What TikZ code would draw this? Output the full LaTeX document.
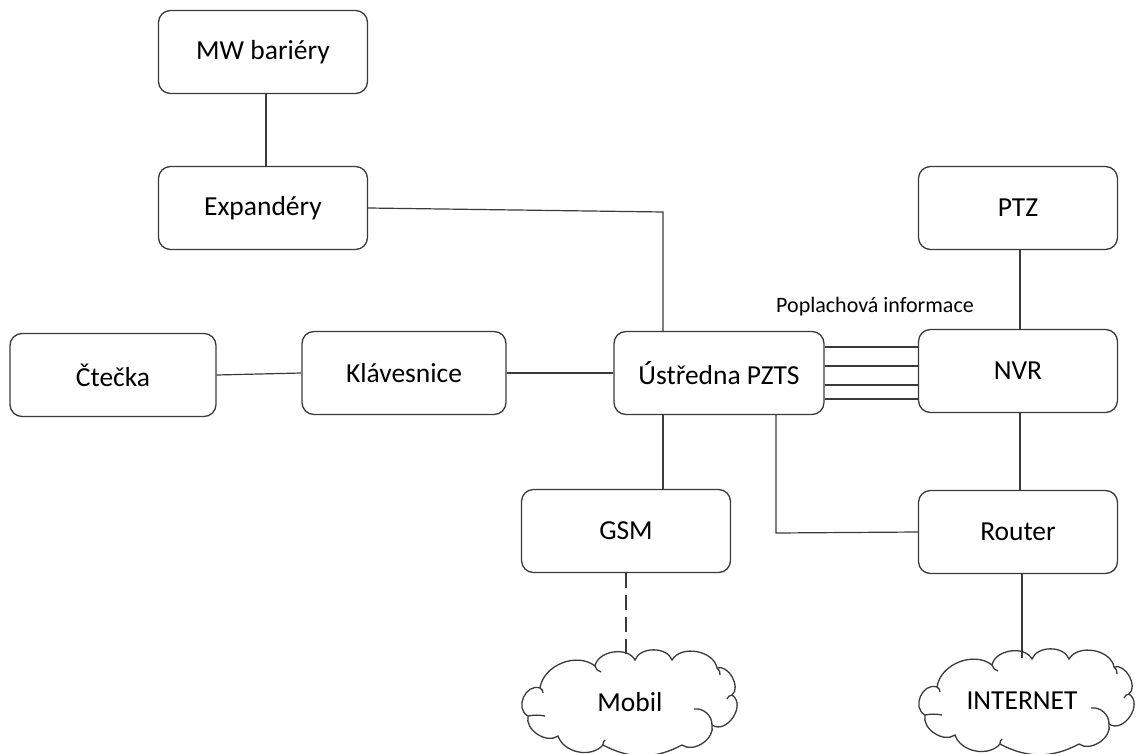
\documentclass[tikz,border=0pt]{standalone}
\usepackage{fontspec}
\setmainfont{Carlito}
\definecolor{edge}{HTML}{3A3A3A}
\begin{document}
\begin{tikzpicture}[x=1pt,y=-1pt,
  box/.style={draw=edge,line width=1.3pt,rounded corners=12pt,minimum width=#1,minimum height=83pt,inner sep=0pt,font=\fontsize{27.5}{32}\selectfont},
  box/.default=205pt,
  cloudtext/.style={inner sep=0pt,font=\fontsize{27.5}{32}\selectfont},
  conn/.style={draw=edge,line width=1.2pt},
  lbl/.style={font=\fontsize{22}{26}\selectfont,inner sep=0pt},
  cloudpic/.pic={
    \draw[edge,line width=1.3pt,fill=white]
      (-36,-36) to[bend left=70] (4,-42) to[bend left=70] (41,-42)
      to[bend left=70] (86,-34) to[bend left=80] (101,-7)
      to[bend left=90,looseness=1.25] (81,23) to[bend left=70] (51,43)
      to[bend left=28] (-28,43) to[bend left=60] (-73,34)
      to[bend left=70] (-103,14) to[bend left=85,looseness=1.3] (-91,-14)
      to[bend left=60] (-36,-36) -- cycle;
    \draw[edge,line width=1.3pt]
      (-36,-36) to[bend right=30] (-30,-30)
      (86,-34) to[bend left=30] (89,-27)
      (101,-7) to[bend right=30] (96,-3)
      (63,7) to[bend left=50] (81,23)
      (-103,14) to[bend left=10] (-86,14)
      (-91,-14) to[bend left=30] (-88,-9)
      (-28,43) to[bend left=30] (-26,38);
  }]
\useasboundingbox (0,0) rectangle (1142,754);
\node[box=209pt] (mw) at (263,52) {MW bariéry};
\node[box=209pt] (exp) at (263,208) {Expandéry};
\node[box=206pt] (cte) at (113,375) {Čtečka};
\node[box=204pt] (kla) at (404,373) {Klávesnice};
\node[box=210pt] (ust) at (719,373) {Ústředna PZTS};
\node[box=199pt] (nvr) at (1018,371) {NVR};
\node[box=199pt] (ptz) at (1018,208) {PTZ};
\node[box=209pt] (gsm) at (626,531) {GSM};
\node[box=199pt] (rtr) at (1018,532) {Router};
\pic at (631,702) {cloudpic};
\node[cloudtext] (mob) at (630,702) {Mobil};
\pic at (1028,701) {cloudpic};
\node[cloudtext] (inet) at (1022,701) {INTERNET};
\node[lbl] (popl) at (875,307) {Poplachová informace};
\coordinate (ecorner) at (663,212);
\coordinate (rcorner) at (776,533);
\coordinate (mobtop) at (626,659);
\coordinate (inettop) at (1022,658);
\draw[conn] (mw.south -| 266,0) -- (exp.north -| 266,0);
\draw[conn] (exp.east) -- (ecorner) -- (ust.north -| ecorner);
\draw[conn] (cte.east) -- (kla.west);
\draw[conn] (kla.east) -- (ust.west);
\foreach \yy in {347,366,385,399} \draw[conn] (ust.east |- 0,\yy) -- (nvr.west |- 0,\yy);
\draw[conn] (ptz.south -| 1020,0) -- (nvr.north -| 1020,0);
\draw[conn] (nvr.south -| 1020,0) -- (rtr.north -| 1020,0);
\draw[conn] (ust.south -| ecorner) -- (gsm.north -| ecorner);
\draw[conn] (ust.south -| rcorner) -- (rcorner) -- (rtr.west);
\draw[conn,dash pattern=on 15pt off 7pt] (gsm.south -| mobtop) -- (mobtop);
\draw[conn] (rtr.south -| inettop) -- (inettop);
\end{tikzpicture}
\end{document}
